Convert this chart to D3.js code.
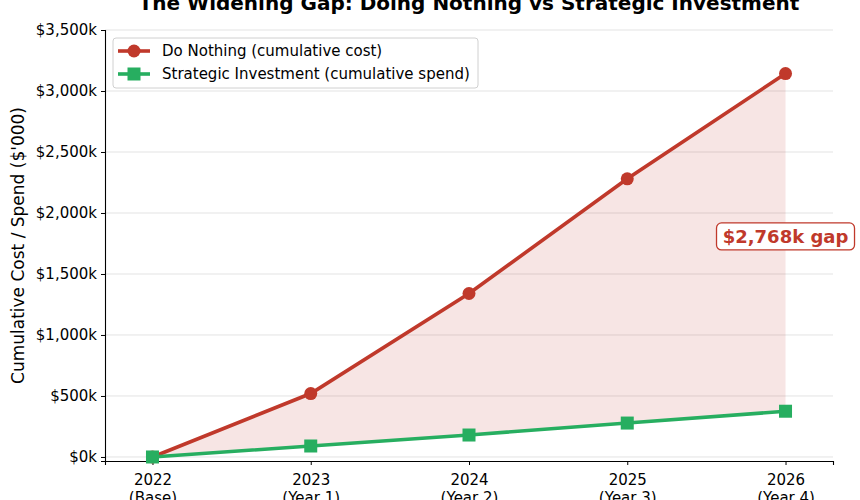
<!DOCTYPE html>
<html>
<head>
<meta charset="utf-8">
<script src="https://cdn.jsdelivr.net/npm/d3@7"></script>
<style>
	body { margin: 0; background: #fff; }
	svg { font-family: "DejaVu Sans", sans-serif; }
</style>
</head>
<body>
<svg width="860" height="500"></svg>
<script>
// data ($'000)
var years = ["2022", "2023", "2024", "2025", "2026"];
var periods = ["(Base)", "(Year 1)", "(Year 2)", "(Year 3)", "(Year 4)"];
var doNothing = [0, 520, 1340, 2280, 3143];
var strategic = [0, 90, 180, 278, 375];
var yTicks = [0, 500, 1000, 1500, 2000, 2500, 3000, 3500];

var red = "#c0392b", green = "#27ae60";

var svg = d3.select("svg"),
	margin = { top: 30, right: 27, bottom: 39, left: 105 },
	width = +svg.attr("width") - margin.left - margin.right,
	height = +svg.attr("height") - margin.top - margin.bottom;

var x = d3.scaleLinear().domain([-0.3, 4.3]).range([0, width]),
	y = d3.scaleLinear().domain([-33, 3500]).range([height, 0]);

var g = svg.append("g")
	.attr("transform", "translate(" + margin.left + "," + margin.top + ")");

// title (partly above the page edge, as in the original)
svg.append("text")
	.attr("x", margin.left + width / 2)
	.attr("y", 10)
	.attr("text-anchor", "middle")
	.attr("font-size", "20px")
	.attr("font-weight", "bold")
	.text("The Widening Gap: Doing Nothing vs Strategic Investment");

// grid
g.append("g")
	.selectAll("line")
	.data(yTicks)
	.enter().append("line")
	.attr("x1", 0).attr("x2", width)
	.attr("y1", function(d) { return y(d); })
	.attr("y2", function(d) { return y(d); })
	.attr("stroke", "#e3e3e3")
	.attr("stroke-width", 1);

// gap fill
var area = d3.area()
	.x(function(d, i) { return x(i); })
	.y0(function(d, i) { return y(strategic[i]); })
	.y1(function(d) { return y(d); });
g.append("path")
	.datum(doNothing)
	.attr("d", area)
	.attr("fill", red)
	.attr("fill-opacity", 0.13);

// axes
var yAxis = g.append("g")
	.call(d3.axisLeft(y).tickValues(yTicks).tickSize(4).tickPadding(4)
		.tickFormat(function(d) { return "$" + d3.format(",")(d) + "k"; }));
var xAxis = g.append("g")
	.attr("transform", "translate(0," + height + ")")
	.call(d3.axisBottom(x).tickValues(d3.range(years.length)).tickSize(4).tickPadding(9)
		.tickFormat(function(d) { return years[d]; }));
[yAxis, xAxis].forEach(function(a) {
	a.select(".domain").attr("stroke", "#000").attr("stroke-width", 1.1);
	a.selectAll(".tick line").attr("stroke", "#000");
	a.selectAll("text").attr("font-size", "15px").attr("fill", "#000")
		.attr("font-family", "DejaVu Sans, sans-serif");
});
xAxis.selectAll(".tick text").each(function(d) {
	d3.select(this).append("tspan").attr("x", 0).attr("dy", "1.2em").text(periods[d]);
});

// y label
svg.append("text")
	.attr("transform", "translate(24," + (margin.top + height / 2) + ") rotate(-90)")
	.attr("text-anchor", "middle")
	.attr("font-size", "17px")
	.text("Cumulative Cost / Spend ($'000)");

// lines
var line = d3.line().x(function(d, i) { return x(i); }).y(function(d) { return y(d); });
g.append("path").datum(doNothing).attr("d", line)
	.attr("fill", "none").attr("stroke", red).attr("stroke-width", 3.6);
g.append("path").datum(strategic).attr("d", line)
	.attr("fill", "none").attr("stroke", green).attr("stroke-width", 3.6);

g.selectAll(".dot")
	.data(doNothing)
	.enter().append("circle")
	.attr("cx", function(d, i) { return x(i); })
	.attr("cy", function(d) { return y(d); })
	.attr("r", 6.5)
	.attr("fill", red);
g.selectAll(".sq")
	.data(strategic)
	.enter().append("rect")
	.attr("x", function(d, i) { return x(i) - 6.5; })
	.attr("y", function(d) { return y(d) - 6.5; })
	.attr("width", 13).attr("height", 13)
	.attr("fill", green);

// gap annotation
var last = years.length - 1;
var gap = doNothing[last] - strategic[last];
var ann = g.append("g")
	.attr("transform", "translate(" + x(last) + "," + (y((doNothing[last] + strategic[last]) / 2) - 6) + ")");
ann.append("rect")
	.attr("x", -69).attr("y", -13.5).attr("width", 138).attr("height", 27)
	.attr("rx", 5)
	.attr("fill", "#fff").attr("stroke", red).attr("stroke-width", 1.3);
ann.append("text")
	.attr("text-anchor", "middle")
	.attr("dy", "0.36em")
	.attr("font-size", "18px")
	.attr("font-weight", "bold")
	.attr("fill", red)
	.text("$" + d3.format(",")(gap) + "k gap");

// legend
var legend = svg.append("g").attr("transform", "translate(113,38)");
legend.append("rect")
	.attr("width", 365).attr("height", 50).attr("rx", 3)
	.attr("fill", "#fff").attr("fill-opacity", 0.8)
	.attr("stroke", "#d0d0d0");
var items = [
	{ label: "Do Nothing (cumulative cost)", color: red, shape: "circle" },
	{ label: "Strategic Investment (cumulative spend)", color: green, shape: "square" }
];
items.forEach(function(it, i) {
	var row = legend.append("g").attr("transform", "translate(0," + (13 + i * 23) + ")");
	row.append("line").attr("x1", 5).attr("x2", 37)
		.attr("stroke", it.color).attr("stroke-width", 3.6);
	if (it.shape == "circle") {
		row.append("circle").attr("cx", 21).attr("r", 6.5).attr("fill", it.color);
	} else {
		row.append("rect").attr("x", 14.5).attr("y", -6.5).attr("width", 13).attr("height", 13)
			.attr("fill", it.color);
	}
	row.append("text").attr("x", 49).attr("dy", "0.36em")
		.attr("font-size", "15px").text(it.label);
});
</script>
</body>
</html>
